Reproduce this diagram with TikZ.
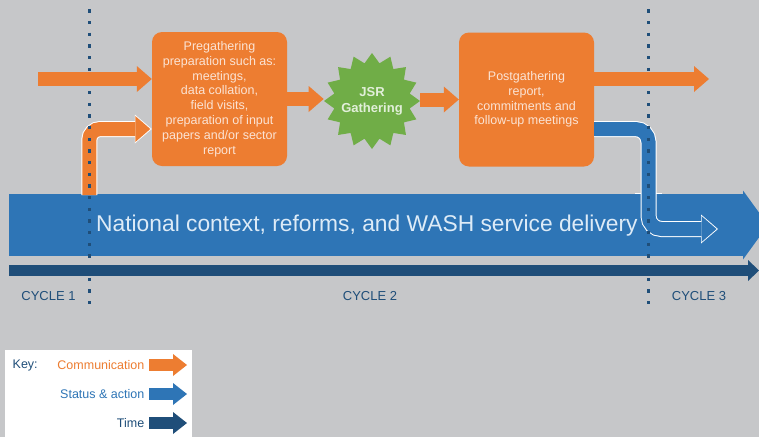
\documentclass[tikz,border=0pt]{standalone}
\usepackage{fontspec}
\setmainfont{Liberation Sans}
\usetikzlibrary{arrows.meta,shapes.geometric,calc}

\definecolor{bggray}{HTML}{C6C7C9}
\definecolor{commorange}{HTML}{ED7D31}
\definecolor{statusblue}{HTML}{2E75B6}
\definecolor{timeblue}{HTML}{1F4E79}
\definecolor{jsrgreen}{HTML}{70AD47}
\definecolor{boxtext}{HTML}{FBE3D4}
\definecolor{bandtext}{HTML}{DDEBF7}
\definecolor{startext}{HTML}{E2EFDA}

\tikzset{
  stagebox/.style={fill=commorange, rounded corners=10pt, minimum width=135pt,
    minimum height=134pt, inner sep=2pt, align=center, text=boxtext,
    font=\fontsize{12.5}{14.8}\selectfont},
  comm/.style={commorange, line width=14pt,
    -{Triangle[width=26pt,length=15pt,line width=0pt]}},
  commedge/.style={white, line width=16pt, rounded corners=11pt,
    -{Triangle[width=29pt,length=17pt,line width=0pt]}},
  commbent/.style={comm, rounded corners=11pt},
  statusedge/.style={white, line width=16pt, rounded corners=13pt,
    -{Triangle[width=29pt,length=17pt,line width=0pt]}},
  statusbent/.style={statusblue, line width=14pt, rounded corners=13pt,
    -{Triangle[width=26pt,length=15pt,line width=0pt]}},
  cycleline/.style={timeblue, line width=3.3pt, dash pattern=on 3.3pt off 8.37pt},
  cyclelabel/.style={text=timeblue, inner sep=0pt, font=\fontsize{13}{15}\selectfont},
  keytext/.style={inner sep=0pt, font=\fontsize{12.5}{15}\selectfont},
  keyarrow/.style={line width=12pt, -{Triangle[width=22pt,length=14pt,line width=0pt]}}
}

\begin{document}
\begin{tikzpicture}[x=1pt,y=-1pt]

  \useasboundingbox (0,0) rectangle (759,437);
  \clip (0,0) rectangle (759,437);
  \fill[bggray] (0,0) rectangle (759,437);

  % status band
  \coordinate (bandL) at (9,225);
  \coordinate (bandR) at (768,225);
  \draw[statusblue, line width=62pt,
    -{Triangle[width=69pt,length=25pt,line width=0pt]}] (bandL) -- (bandR);
  \draw[white, line width=0.8pt] (635,193.6) -- (662,193.6);

  % stages
  \node[stagebox] (pre) at (219.5,99) {Pregathering\\preparation such as:\\meetings,\\data collation,\\field visits,\\preparation of input\\papers and/or sector\\report};
  \node[stagebox] (post) at (526.5,99.5) {Postgathering\\report,\\commitments and\\follow-up meetings};
  \node[star, star points=16, star point ratio=1.25, minimum size=96pt, inner sep=-6pt,
    fill=jsrgreen, text=startext, align=center,
    font=\fontsize{13}{16}\selectfont\bfseries] (jsr) at (372,101) {JSR\\Gathering};

  % bent arrows
  \coordinate (inB) at (89.3,195);
  \draw[commedge] (inB) |- ($(pre.west)+(0,30)$);
  \draw[commbent] (inB) |- ($(pre.west)+(-1.5,30)$);

  \coordinate (drop) at (648.5,229);
  \coordinate (outB) at (718,229);
  \draw[statusedge] ($(post.east)+(0,29.5)$) -| (drop) -- (outB);
  \draw[statusbent] ($(post.east)+(0,29.5)$) -| (drop) -- ($(outB)+(-1.5,0)$);

  % cycle borders
  \coordinate (c1top) at (89.3,9.4);
  \coordinate (c1bot) at (89.3,304.4);
  \coordinate (c2top) at (648.3,9.4);
  \coordinate (c2bot) at (648.3,304.4);
  \draw[cycleline] (c1top) -- (c1bot);
  \draw[cycleline] (c2top) -- (c2bot);

  % time
  \coordinate (timeL) at (9,270.5);
  \coordinate (timeR) at (759,270.5);
  \draw[timeblue, line width=11pt,
    -{Triangle[width=21pt,length=11pt,line width=0pt]}] (timeL) -- (timeR);

  \node[anchor=west, inner sep=0pt, text=bandtext, font=\fontsize{22.8}{26}\selectfont]
    (band) at (96,226) {National context, reforms, and WASH service delivery};

  % communication
  \coordinate (commin) at (38,79);
  \coordinate (commout) at (709,79);
  \draw[comm] (commin) -- (commin -| pre.west);
  \draw[comm] (pre.east) -- (pre.east -| jsr.west);
  \draw[comm] (post.west -| jsr.east) -- (post.west);
  \draw[comm] (commout -| post.east) -- (commout);

  \node[cyclelabel] (cyc1) at (48.5,296) {CYCLE 1};
  \node[cyclelabel] (cyc2) at (370,296) {CYCLE 2};
  \node[cyclelabel] (cyc3) at (699,296) {CYCLE 3};

  % key
  \fill[white] (5,350) rectangle (192,437);
  \node[keytext, anchor=west, text=timeblue] (key) at (12.5,365) {Key:};
  \node[keytext, anchor=east, text=commorange] (kcomm) at (144.5,365) {Communication};
  \node[keytext, anchor=east, text=statusblue] (kstat) at (144.5,394) {Status \& action};
  \node[keytext, anchor=east, text=timeblue] (ktime) at (144.5,423) {Time};
  \coordinate (kcommend) at (187,365);
  \coordinate (kstatend) at (187,394);
  \coordinate (ktimeend) at (187,423);
  \draw[keyarrow, commorange] ([xshift=4.5pt]kcomm.east) -- (kcommend);
  \draw[keyarrow, statusblue] ([xshift=4.5pt]kstat.east) -- (kstatend);
  \draw[keyarrow, timeblue] ([xshift=4.5pt]ktime.east) -- (ktimeend);

\end{tikzpicture}
\end{document}
